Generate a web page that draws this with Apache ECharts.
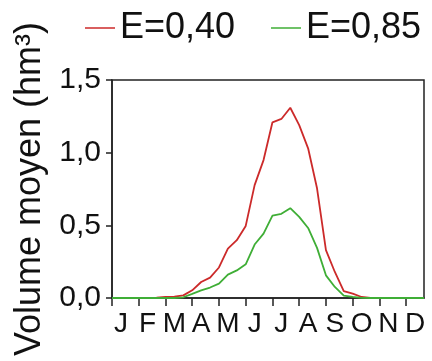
<!DOCTYPE html>
<html>
<head>
<meta charset="utf-8">
<script src="https://cdn.jsdelivr.net/npm/echarts@6/dist/echarts.min.js"></script>
<style>
html,body{margin:0;padding:0;background:#fff;}
#chart{width:432px;height:361px;}
</style>
</head>
<body>
<div id="chart"></div>
<script>
// Decades (3 per month) of the year
var categories = [
  'Jan1','Jan2','Jan3','Feb1','Feb2','Feb3','Mar1','Mar2','Mar3',
  'Apr1','Apr2','Apr3','May1','May2','May3','Jun1','Jun2','Jun3',
  'Jul1','Jul2','Jul3','Aug1','Aug2','Aug3','Sep1','Sep2','Sep3',
  'Oct1','Oct2','Oct3','Nov1','Nov2','Nov3','Dec1','Dec2','Dec3'
];
var monthLabels = ['J','F','M','A','M','J','J','A','S','O','N','D'];
var yTicks = ['0,0','0,5','1,0','1,5'];

var seriesNames = ['E=0,40','E=0,85'];
var valuesE040 = [0,0,0,0,0,0.003,0.008,0.01,0.018,0.053,0.11,0.14,0.21,0.34,0.398,0.496,0.777,0.949,
                  1.209,1.232,1.309,1.19,1.03,0.755,0.329,0.179,0.048,0.03,0.007,0,0,0,0,0,0,0];
var valuesE085 = [0,0,0,0,0,0,0,0,0.005,0.028,0.053,0.072,0.099,0.161,0.19,0.232,0.368,0.443,
                  0.567,0.579,0.618,0.558,0.482,0.345,0.156,0.076,0.016,0.008,0.001,0,0,0,0,0,0,0];

var FONT = "'Liberation Sans', Arial, sans-serif";
var chart = echarts.init(document.getElementById('chart'), null, {renderer:'canvas'});
chart.setOption({
  animation:false,
  backgroundColor:'#ffffff',
  textStyle:{fontFamily:FONT},
  legend:[
    {left:80, top:5, itemWidth:30, itemHeight:1.5, icon:'rect', itemGap:10, data:[seriesNames[0]],
     textStyle:{fontSize:36, color:'#111', fontFamily:FONT}},
    {left:266, top:5, itemWidth:30, itemHeight:1.5, icon:'rect', itemGap:10, data:[seriesNames[1]],
     textStyle:{fontSize:36, color:'#111', fontFamily:FONT}}
  ],
  grid:{left:112, right:8, top:80, bottom:63, show:true, borderColor:'#222', borderWidth:1.5, backgroundColor:'transparent'},
  xAxis:{
    type:'category',
    data:categories,
    boundaryGap:false,
    axisLine:{lineStyle:{color:'#222', width:1.5}},
    axisTick:{show:true, length:8, interval:function(i){return i%3===0;}, lineStyle:{color:'#222', width:1.5}},
    axisLabel:{
      interval:0, hideOverlap:false, margin:12,
      fontSize:28, color:'#111', fontFamily:FONT,
      formatter:function(v, i){ return i%3===1 ? monthLabels[Math.floor(i/3)] : ''; }
    },
    splitLine:{show:false}
  },
  yAxis:{
    type:'value',
    min:0, max:1.5, interval:0.5,
    name:'Volume moyen (hm³)',
    nameLocation:'middle',
    nameGap:64,
    nameTextStyle:{fontSize:36, color:'#111', fontFamily:FONT},
    axisLine:{show:true, lineStyle:{color:'#222', width:1.5}},
    axisTick:{show:true, length:6, lineStyle:{color:'#222', width:1.5}},
    axisLabel:{
      margin:11, fontSize:30, color:'#111', fontFamily:FONT,
      formatter:function(v){ return yTicks[Math.round(v/0.5)]; }
    },
    splitLine:{show:false}
  },
  series:[
    {name:seriesNames[0], type:'line', data:valuesE040, symbol:'none', showSymbol:false,
     lineStyle:{color:'#cc2a2a', width:1.8}, itemStyle:{color:'#cc2a2a'}},
    {name:seriesNames[1], type:'line', data:valuesE085, symbol:'none', showSymbol:false,
     lineStyle:{color:'#3fae36', width:1.8}, itemStyle:{color:'#3fae36'}}
  ]
});
</script>
</body>
</html>
